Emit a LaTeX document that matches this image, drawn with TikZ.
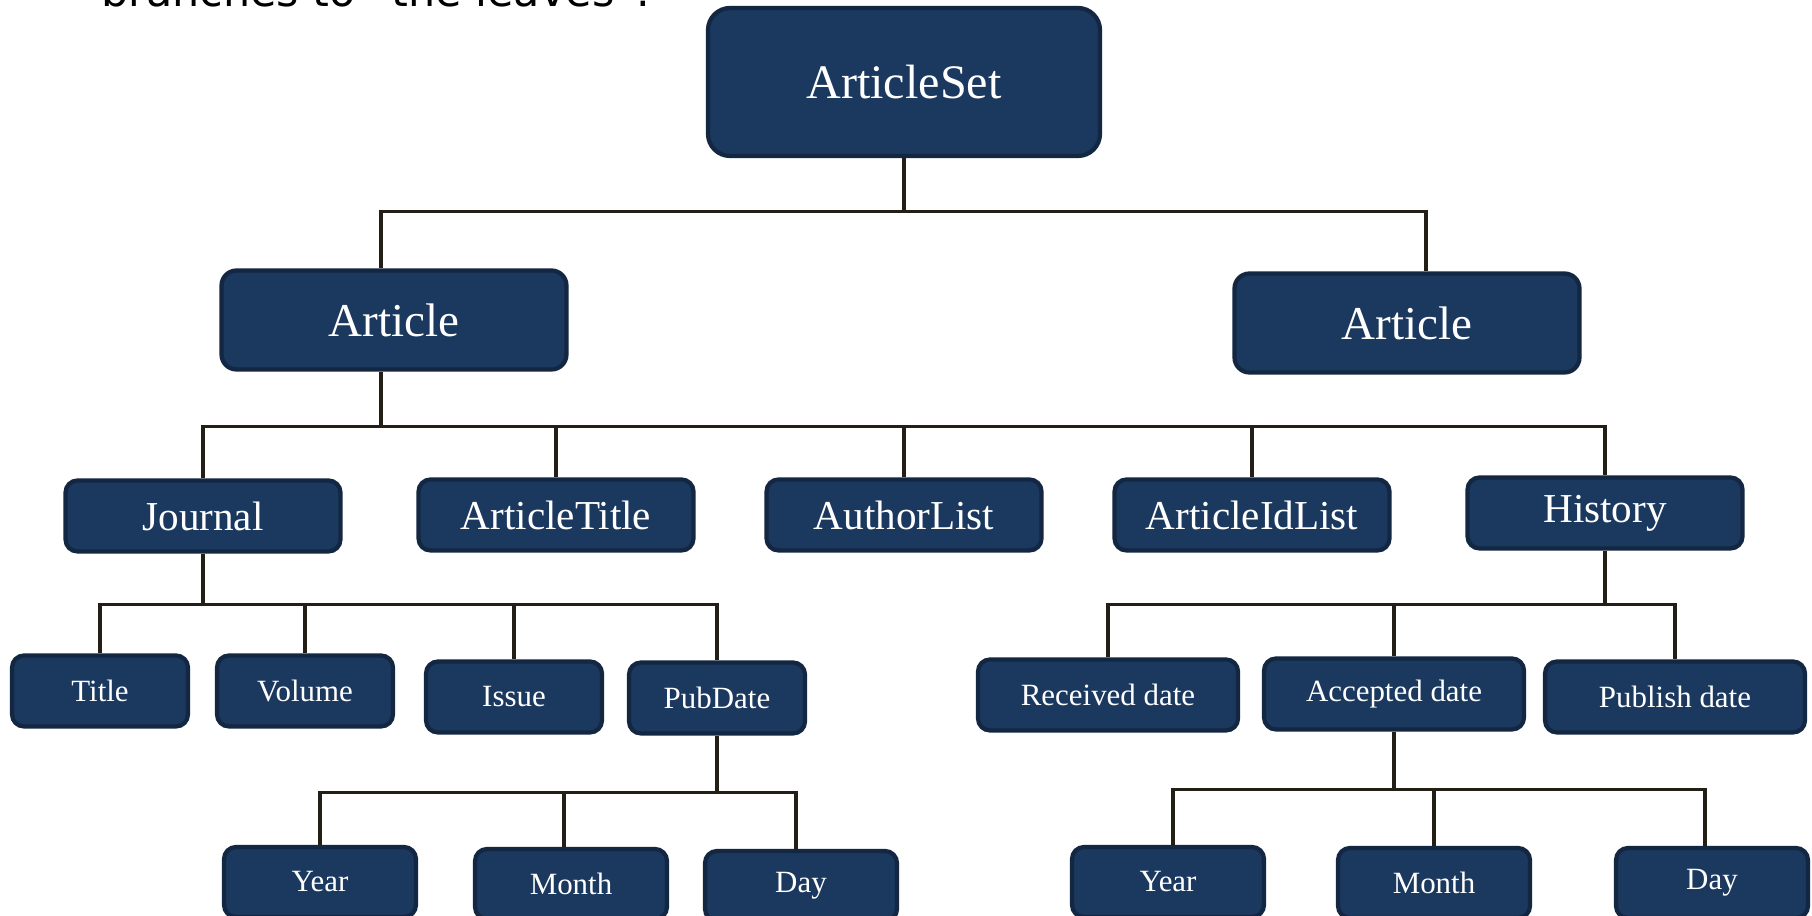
\documentclass[tikz,border=0pt]{standalone}
\usepackage{fontspec}
\setmainfont{Liberation Serif}
\newfontfamily\notefont{DejaVu Sans}
\definecolor{boxfill}{RGB}{27,56,94}
\definecolor{boxline}{RGB}{19,38,66}
\definecolor{linecol}{RGB}{35,31,22}
\begin{document}
\begin{tikzpicture}[
  box/.style={draw=boxline, fill=boxfill, line width=1.2pt, rounded corners=0.12cm,
    text=white, inner sep=0pt},
  lvlzero/.style={box, minimum width=3.92cm, minimum height=1.48cm, rounded corners=0.22cm,
    font=\fontsize{13.7}{16}\selectfont},
  lvlone/.style={box, minimum width=3.45cm, minimum height=0.99cm, rounded corners=0.15cm,
    font=\fontsize{13.4}{16}\selectfont},
  lvltwo/.style={box, minimum width=2.75cm, minimum height=0.71cm,
    font=\fontsize{11.7}{14}\selectfont},
  lvlthree/.style={box, minimum width=1.76cm, minimum height=0.71cm,
    font=\fontsize{8.8}{11}\selectfont},
  lvldate/.style={lvlthree, minimum width=2.6cm},
  lvlfour/.style={lvlthree, minimum width=1.92cm, minimum height=0.70cm},
  link/.style={draw=linecol, line width=0.9pt}
]
  \clip (0,0) rectangle (18.12,-9.16);
  \node[anchor=base west, font=\notefont\fontsize{12.2}{14}\selectfont] (note) at (0.89,-0.07) {branches to “the leaves”.};

  \node[lvlzero] (AS) at (9.04,-0.82) {ArticleSet};
  \node[lvlone] (A1) at (3.94,-3.20) {Article};
  \node[lvlone] (A2) at (14.07,-3.23) {Article};

  \node[lvltwo] (J) at (2.03,-5.16) {Journal};
  \node[lvltwo] (AT) at (5.56,-5.15) {ArticleTitle};
  \node[lvltwo] (AL) at (9.04,-5.15) {AuthorList};
  \node[lvltwo] (AI) at (12.52,-5.15) {ArticleIdList};
  \node[lvltwo] (H) at (16.05,-5.13) {History};

  \node[lvlthree] (T) at (1.00,-6.91) {Title};
  \node[lvlthree] (V) at (3.05,-6.91) {Volume};
  \node[lvlthree] (I) at (5.14,-6.97) {Issue};
  \node[lvlthree] (PD) at (7.17,-6.98) {PubDate};

  \node[lvldate] (RD) at (11.08,-6.95) {Received date};
  \node[lvldate] (AD) at (13.94,-6.94) {Accepted date};
  \node[lvldate] (PuD) at (16.75,-6.97) {Publish date};

  \node[lvlfour] (Y1) at (3.20,-8.82) {Year};
  \node[lvlfour] (M1) at (5.71,-8.84) {Month};
  \node[lvlfour] (D1) at (8.01,-8.86) {Day};

  \node[lvlfour] (Y2) at (11.68,-8.82) {Year};
  \node[lvlfour] (M2) at (14.34,-8.83) {Month};
  \node[lvlfour] (D2) at (17.12,-8.83) {Day};

  \draw[link] (AS.south) -- ++(0,-0.53) coordinate (B0);
  \draw[link] ([xshift=-0.13cm]A1.north) |- (B0) -| ([xshift=0.19cm]A2.north);

  \draw[link] ([xshift=-0.13cm]A1.south) -- ++(0,-0.55) coordinate (B1);
  \draw[link] (J.north) |- (B1) -| (H.north);
  \foreach \n in {AT,AL,AI}
    \draw[link] (B1 -| \n.north) -- (\n.north);

  \draw[link] (J.south) -- ++(0,-0.51) coordinate (B2);
  \draw[link] (T.north) |- (B2) -| (PD.north);
  \foreach \n in {V,I}
    \draw[link] (B2 -| \n.north) -- (\n.north);

  \draw[link] (PD.south) -- ++(0,-0.57) coordinate (B3);
  \draw[link] (Y1.north) |- (B3) -| ([xshift=-0.05cm]D1.north);
  \draw[link] ([xshift=-0.07cm]B3 -| M1.north) -- ([xshift=-0.07cm]M1.north);

  \draw[link] (H.south) -- ++(0,-0.54) coordinate (B4);
  \draw[link] (RD.north) |- (B4) -| (PuD.north);
  \draw[link] (B4 -| AD.north) -- (AD.north);

  \draw[link] (AD.south) -- ++(0,-0.58) coordinate (B5);
  \draw[link] ([xshift=0.05cm]Y2.north) |- (B5) -| ([xshift=-0.07cm]D2.north);
  \draw[link] (B5 -| M2.north) -- (M2.north);
\end{tikzpicture}
\end{document}
